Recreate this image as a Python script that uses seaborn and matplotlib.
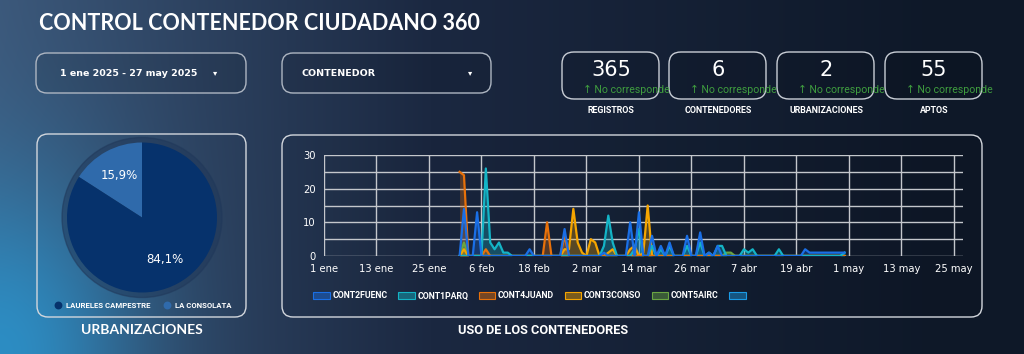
import numpy as np
import pandas as pd
import matplotlib
matplotlib.use('Agg')
import matplotlib.pyplot as plt
from matplotlib.patches import FancyBboxPatch, Patch, Circle
import seaborn as sns

# ---------------- data ----------------
titulo = 'CONTROL CONTENEDOR CIUDADANO 360'
rango_fechas = '1 ene 2025 - 27 may 2025'

kpi_valores = ['365', '6', '2', '55']
kpi_nombres = ['REGISTROS', 'CONTENEDORES', 'URBANIZACIONES', 'APTOS']
kpi_delta = '\u2191 No corresponde'

urbanizaciones = ['LA CONSOLATA', 'LAURELES CAMPESTRE']
urb_pct = [15.9, 84.1]

contenedores = ['CONT2FUENC', 'CONT1PARQ', 'CONT4JUAND', 'CONT3CONSO', 'CONT5AIRC', '']
colores = ['#1a6fe6', '#14b4c6', '#e8710a', '#f5a500', '#6aa542', '#1a9be6']

fechas = pd.date_range('2025-02-01', '2025-04-30', freq='D')

# valores diarios: febrero (28), marzo (31), abril (30)
cont2fuenc = ([0, 14, 0, 0, 13, 0, 0, 0, 0, 0, 0, 0, 0, 0, 0, 0, 2, 0, 0, 0, 0, 0, 0, 0, 8, 0, 0, 0] +
              [0, 0, 0, 0, 0, 1, 0, 0, 0, 0, 0, 10, 0, 13, 0, 0, 6, 0, 3, 0, 4, 0, 0, 0, 6, 0, 0, 7, 0, 1, 0] +
              [3, 0, 0, 0, 0, 0, 0, 0, 0, 0, 0, 0, 0, 0, 0, 0, 0, 0, 0, 0, 2, 1, 1, 1, 1, 1, 1, 1, 1, 1])
cont1parq = ([0, 0, 0, 0, 0, 0, 26, 4, 2, 4, 1, 1, 0, 0, 0, 0, 0, 0, 0, 0, 0, 0, 0, 0, 0, 0, 0, 0] +
             [0, 0, 0, 0, 0, 3, 12, 4, 0, 0, 0, 0, 2, 8, 0, 0, 3, 0, 2, 0, 3, 0, 0, 0, 3, 0, 0, 4, 0, 1, 0] +
             [3, 3, 0, 0, 0, 0, 2, 1, 2, 0, 0, 0, 0, 0, 2, 0, 0, 0, 0, 0, 0, 0, 0, 0, 0, 0, 0, 0, 0, 1])
cont4juand = ([25, 24, 0, 0, 0, 0, 2, 0, 0, 0, 0, 0, 0, 0, 0, 0, 0, 0, 0, 0, 10, 0, 0, 0, 6, 0, 0, 0] +
              [0, 0, 0, 0, 0, 0, 0, 0, 0, 0, 0, 0, 0, 0, 0, 0, 0, 0, 0, 0, 0, 0, 0, 0, 0, 0, 0, 0, 0, 0, 0] +
              [0, 0, 0, 0, 0, 0, 0, 0, 0, 0, 0, 0, 0, 0, 0, 0, 0, 0, 0, 0, 0, 0, 0, 0, 0, 0, 0, 0, 0, 0])
cont3conso = ([0, 2, 0, 0, 0, 0, 0, 0, 0, 0, 0, 0, 0, 0, 0, 0, 0, 0, 0, 0, 0, 0, 0, 0, 2, 2, 14, 4] +
              [1, 0, 5, 4, 0, 0, 1, 2, 0, 0, 0, 2, 3, 0, 1, 15, 0, 0, 0, 0, 0, 0, 0, 0, 0, 0, 0, 0, 0, 0, 0] +
              [0, 0, 0, 0, 0, 0, 0, 0, 0, 0, 0, 0, 0, 0, 0, 0, 0, 0, 0, 0, 0, 0, 0, 0, 0, 0, 0, 0, 0, 0])
cont5airc = ([0, 4, 0, 0, 0, 0, 0, 0, 0, 0, 0, 0, 0, 0, 0, 0, 0, 0, 0, 0, 0, 0, 0, 0, 0, 0, 0, 0] +
             [0, 0, 0, 0, 0, 0, 0, 0, 0, 0, 0, 0, 0, 0, 0, 0, 0, 0, 0, 0, 0, 0, 0, 0, 0, 0, 0, 0, 0, 0, 0] +
             [0, 0, 1, 1, 0, 0, 0, 0, 0, 0, 0, 0, 0, 0, 0, 0, 0, 0, 0, 0, 0, 0, 0, 0, 0, 0, 0, 0, 0, 0])
sin_nombre = ([0, 0, 0, 0, 0, 0, 0, 0, 0, 0, 0, 0, 0, 0, 0, 0, 0, 0, 0, 0, 0, 0, 0, 0, 0, 0, 0, 0] +
              [0, 0, 0, 0, 0, 0, 0, 0, 0, 0, 0, 0, 0, 0, 0, 0, 0, 0, 0, 0, 0, 0, 0, 0, 0, 0, 0, 0, 0, 0, 0] +
              [0, 0, 0, 0, 0, 0, 0, 0, 0, 0, 0, 0, 0, 0, 0, 0, 0, 0, 0, 0, 0, 0, 0, 0, 0, 0, 0, 0, 0, 0])

tick_fechas = ['2025-01-01', '2025-01-13', '2025-01-25', '2025-02-06', '2025-02-18', '2025-03-02', '2025-03-14',
               '2025-03-26', '2025-04-07', '2025-04-19', '2025-05-01', '2025-05-13', '2025-05-25']
tick_labels = ['1 ene', '13 ene', '25 ene', '6 feb', '18 feb', '2 mar', '14 mar',
               '26 mar', '7 abr', '19 abr', '1 may', '13 may', '25 may']

ancho = pd.DataFrame({'fecha': fechas, 'CONT2FUENC': cont2fuenc, 'CONT1PARQ': cont1parq,
                      'CONT4JUAND': cont4juand, 'CONT3CONSO': cont3conso,
                      'CONT5AIRC': cont5airc, '': sin_nombre})
largo = ancho.melt(id_vars='fecha', var_name='contenedor', value_name='valor')

# ---------------- figure ----------------
W, H = 1024, 354
fig = plt.figure(figsize=(W / 100, H / 100), dpi=100)

# background gradient, with a blue glow in the lower left corner
yy, xx = np.mgrid[0:H, 0:W]
t = xx / W
c_left = np.array([0x3c, 0x58, 0x7a]) / 255
c_mid = np.array([0x1b, 0x28, 0x41]) / 255
c_right = np.array([0x0e, 0x18, 0x28]) / 255
w1 = np.clip(t / 0.42, 0, 1)[..., None]
w2 = np.clip((t - 0.42) / 0.5, 0, 1)[..., None]
grad = c_left * (1 - w1) + c_mid * w1
grad = grad * (1 - w2) + c_right * w2
d = np.sqrt((xx * 1.6) ** 2 + ((H - yy) * 1.2) ** 2)
glow = np.exp(-(d / 210) ** 2)[..., None] * 0.85
grad = grad * (1 - glow) + np.array([0x2a, 0x96, 0xd0]) / 255 * glow

bg = fig.add_axes([0, 0, 1, 1])
bg.imshow(grad, extent=[0, W, H, 0], aspect='auto', zorder=0)
bg.set_xlim(0, W)
bg.set_ylim(H, 0)
bg.axis('off')


def caja(x0, y0, x1, y1, r=10, ec='#c9ced6', fc='none'):
    p = FancyBboxPatch((x0, y0), x1 - x0, y1 - y0, boxstyle=f'round,pad=0,rounding_size={r}',
                       ec=ec, fc=fc, lw=1.0, zorder=2)
    bg.add_patch(p)


# title
bg.text(39, 23.5, titulo, color='white', fontsize=15.5, fontweight='bold', family='Lato',
        va='center', ha='left', zorder=3)

# date + control dropdowns
caja(36, 53, 246, 93, r=11, ec='#aeb6c2', fc=(0, 0, 0, 0.08))
bg.text(129, 73.5, rango_fechas, color='white', fontsize=6.8, fontweight='bold', family='DejaVu Sans',
        ha='center', va='center', zorder=3)
bg.text(215, 73, '\u25be', color='white', fontsize=6, ha='center', va='center', zorder=3)
caja(282, 53, 491, 93, r=11, ec='#aeb6c2', fc=(0, 0, 0, 0.08))
bg.text(302, 73.5, 'CONTENEDOR', color='white', fontsize=6.8, fontweight='bold', family='DejaVu Sans',
        ha='left', va='center', zorder=3)
bg.text(470, 73, '\u25be', color='white', fontsize=6, ha='center', va='center', zorder=3)

# KPI cards
kpi_x = [562, 669, 777, 885]
for x0, val, nom in zip(kpi_x, kpi_valores, kpi_nombres):
    caja(x0, 52, x0 + 97, 99, r=12, ec='#c9ced6', fc=(0, 0, 0, 0.10))
    bg.text(x0 + 49, 70, val, color='white', fontsize=15, family='DejaVu Sans', ha='center', va='center', zorder=3)
    bg.text(x0 + 21, 89.5, kpi_delta, color='#3f9d3f', fontsize=7.6, family=['Roboto', 'DejaVu Sans'],
            ha='left', va='center', zorder=4)
    bg.text(x0 + 49, 110.5, nom, color='white', fontsize=6.4, fontweight='bold', family='Roboto',
            ha='center', va='center', zorder=3)

# ---- pie panel ----
caja(37, 134, 246, 317, r=11, ec='#d3d7dd')
bg.add_patch(Circle((142, 217.5), 80, color='#20385a', alpha=0.55, zorder=2))
pie_ax = fig.add_axes([(142 - 82.5) / W, 1 - (217.5 + 82.5) / H, 165 / W, 165 / H])
pie_ax.set_facecolor('none')
pie_colores = ['#2f6aab', '#06326c']
wedges, _, autotexts = pie_ax.pie(urb_pct, colors=pie_colores, startangle=90, counterclock=True,
                                  autopct=lambda p: f'{p:.1f}%'.replace('.', ','), pctdistance=0.64,
                                  wedgeprops=dict(linewidth=0),
                                  textprops=dict(color='white', fontsize=8.5, family='DejaVu Sans'))
pie_ax.set_xlim(-1.1, 1.1)
pie_ax.set_ylim(-1.1, 1.1)
pie_ax.set_aspect('equal')
pie_ax.axis('off')

# pie legend: dot + label
for xm, nombre, color in [(58, urbanizaciones[1], pie_colores[1]), (167, urbanizaciones[0], pie_colores[0])]:
    bg.scatter([xm], [305], s=32, color=color, lw=0, zorder=4)
    bg.text(xm + 8, 305.5, nombre, color='white', fontsize=5.6, fontweight='bold', family='Roboto',
            ha='left', va='center', zorder=4)
bg.text(142, 330, 'URBANIZACIONES', color='white', fontsize=10, fontweight='bold', family='Lato',
        ha='center', va='center', zorder=3)

# ---- line chart panel ----
caja(282, 135, 982, 317, r=11, ec='#d3d7dd', fc=(0, 0, 0, 0.06))
ax = fig.add_axes([324 / W, 1 - 256 / H, (963 - 324) / W, (256 - 155) / H])
ax.set_facecolor('none')
sns.lineplot(data=largo, x='fecha', y='valor', hue='contenedor', hue_order=contenedores[::-1],
             palette=dict(zip(contenedores, colores)), linewidth=1.6, legend=False, ax=ax, zorder=3)
for nombre, color in zip(contenedores, colores):
    ax.fill_between(ancho['fecha'], ancho[nombre], color=color, alpha=0.3, lw=0, zorder=2)

ax.set_xlim(pd.Timestamp('2025-01-01'), pd.Timestamp('2025-05-27 02:00'))
ax.set_ylim(0, 30)
ax.set_xticks(pd.to_datetime(tick_fechas))
ax.set_xticklabels(tick_labels)
ax.set_yticks([0, 10, 20, 30])
ax.set_yticks([5, 15, 25], minor=True)
ax.grid(True, which='both', color='#c4c7cc', lw=1.0, zorder=1)
ax.grid(False, which='minor', axis='x')
ax.tick_params(axis='both', which='both', length=0, colors='white', labelsize=7.2, pad=6)
for lab in ax.get_xticklabels() + ax.get_yticklabels():
    lab.set_family('DejaVu Sans')
for s in ax.spines.values():
    s.set_visible(False)
ax.set_xlabel('')
ax.set_ylabel('')

leg_handles = [Patch(facecolor=matplotlib.colors.to_rgba(c, 0.45), edgecolor=c, lw=0.8) for c in colores]
fig.legend(leg_handles, contenedores, loc='center left', bbox_to_anchor=(313 / W, 1 - 296 / H), ncol=6,
           frameon=False, borderpad=0, borderaxespad=0, handlelength=1.9, handleheight=0.7,
           handletextpad=0.3, columnspacing=1.2,
           prop=dict(family='Roboto', weight='bold', size=6.3), labelcolor='white')
bg.text(543, 331, 'USO DE LOS CONTENEDORES', color='white', fontsize=9.2, fontweight='bold',
        family='Roboto', ha='center', va='center', zorder=3)

fig.savefig('out.png', dpi=100)
